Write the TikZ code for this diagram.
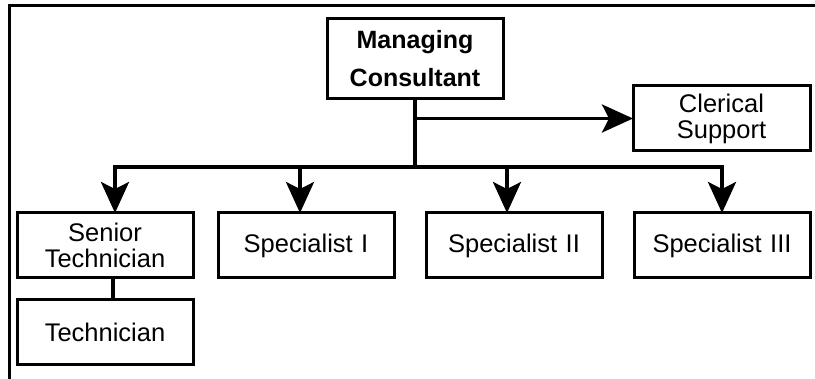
\documentclass[tikz,border=0pt]{standalone}
\usepackage{fontspec}
\setmainfont{Liberation Sans}
\usetikzlibrary{arrows.meta, positioning}

\begin{document}
\begin{tikzpicture}[x=1pt, y=-1pt, node distance=32pt,
    box/.style={rectangle, draw=black, line width=3pt, outer sep=0pt, inner sep=0pt, minimum width=176pt, minimum height=65pt, text width=172pt, align=center, font=\fontsize{25.5}{26}\selectfont},
    link/.style={line width=3.5pt},
    arrow/.style={line width=3.5pt, -{Stealth[length=31pt, width=28pt, inset=7pt]}}]

    \useasboundingbox (0,0) rectangle (815,379);
    \draw[line width=3pt] (9,379) -- (9,5.5) -- (815,5.5);

    \node[box, minimum height=80pt, font=\bfseries\fontsize{25}{38}\selectfont] (managing) at (415,59) {Managing\\Consultant};
    \node[box, minimum width=177pt] (clerical) at (721.5,118.5) {Clerical\\Support};
    \node[box] (senior) at (105,245.5) {Senior\\Technician};
    \node[box, right=25pt of senior] (spec1) {Specialist I};
    \node[box, right=of spec1] (spec2) {Specialist II};
    \node[box, right=of spec2] (spec3) {Specialist III};
    \node[box, below=22pt of senior] (technician) {Technician};

    \draw[link] (managing.south) -- ++(0,68) coordinate (bus);
    \draw[arrow] (managing.south |- clerical.west) -- (clerical.west);
    \draw[arrow] (bus) -| ([xshift=10pt]senior.north);
    \draw[arrow] (bus) -| ([xshift=-6pt]spec1.north);
    \draw[arrow] (bus) -| ([xshift=-7pt]spec2.north);
    \draw[arrow] (bus) -| (spec3.north);
    \draw[link] ([xshift=8pt]senior.south) -- ([xshift=8pt]technician.north);
\end{tikzpicture}
\end{document}
